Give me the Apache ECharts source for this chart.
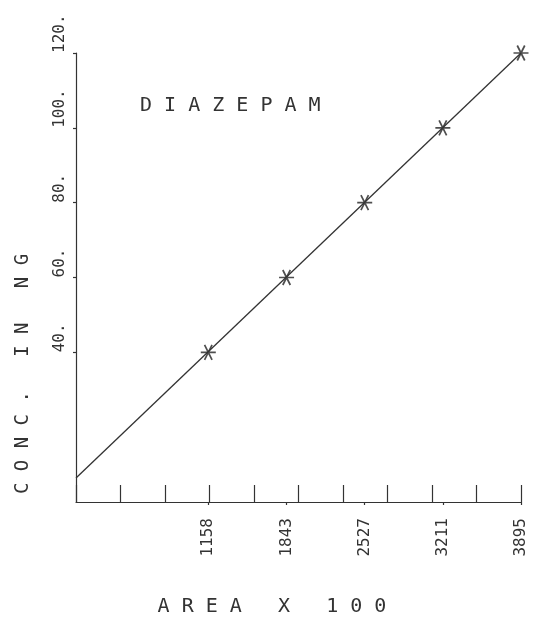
<!DOCTYPE html>
<html>
<head>
<meta charset="utf-8">
<script src="https://cdn.jsdelivr.net/npm/echarts@6/dist/echarts.min.js"></script>
<style>
  html, body { margin: 0; padding: 0; background: #fff; }
  #chart { width: 534px; height: 618px; }
</style>
</head>
<body>
<div id="chart"></div>
<script>
// calibration points
const areaValues = [1158, 1843, 2527, 3211, 3895]
const concValues = [40, 60, 80, 100, 120]
// fitted line, ends of the drawn line
const fitX = [0, 3895]
const fitY = [6.4, 120]
// labelled ticks
const yTickValues = [40, 60, 80, 100, 120]

const ink = '#333'
const font = 'DejaVu Sans Mono'

const points = areaValues.map((x, i) => [x, concValues[i]])
const fitLine = fitX.map((x, i) => [x, fitY[i]])

const chart = echarts.init(document.getElementById('chart'))
chart.setOption({
  backgroundColor: '#fff',
  animation: false,
  title: {
    text: 'D I A Z E P A M',
    left: 135,
    top: 91,
    textStyle: { fontFamily: font, fontSize: 20, fontWeight: 'normal', color: ink }
  },
  grid: { left: 76, right: 13, top: 53, bottom: 116 },
  xAxis: [
    {
      type: 'value',
      min: 0,
      max: 3895,
      interval: 389.5,
      axisLine: { lineStyle: { color: ink, width: 1.2 } },
      axisTick: { inside: true, length: 17, lineStyle: { color: ink, width: 1.2 } },
      axisLabel: { show: false },
      splitLine: { show: false }
    },
    {
      type: 'value',
      min: 0,
      max: 3895,
      position: 'bottom',
      axisLine: { show: false },
      axisTick: { customValues: areaValues, length: 3, lineStyle: { color: ink, width: 1.2 } },
      axisLabel: {
        customValues: areaValues,
        formatter: v => String(v),
        rotate: 90,
        margin: 16,
        fontFamily: font,
        fontSize: 16,
        color: ink
      },
      splitLine: { show: false }
    }
  ],
  yAxis: {
    type: 'value',
    min: 0,
    max: 120,
    axisLine: { show: true, lineStyle: { color: ink, width: 1.2 } },
    axisTick: { show: true, customValues: yTickValues, length: 3, lineStyle: { color: ink, width: 1.2 } },
    axisLabel: {
      customValues: yTickValues,
      formatter: v => v + '.',
      rotate: 90,
      align: 'left',
      margin: 8,
      fontFamily: font,
      fontSize: 16,
      color: ink
    },
    splitLine: { show: false }
  },
  graphic: [
    {
      type: 'text',
      x: 272,
      y: 607,
      style: {
        text: 'A R E A   X   1 0 0',
        font: '20px "DejaVu Sans Mono"',
        fill: ink,
        align: 'center',
        verticalAlign: 'middle'
      }
    },
    {
      type: 'text',
      x: 23,
      y: 374,
      rotation: Math.PI / 2,
      style: {
        text: 'C O N C .   I N   N G',
        font: '19px "DejaVu Sans Mono"',
        fill: ink,
        align: 'center',
        verticalAlign: 'middle'
      }
    }
  ],
  series: [
    {
      type: 'line',
      data: fitLine,
      symbol: 'none',
      lineStyle: { color: ink, width: 1.3 },
      silent: true
    },
    {
      type: 'scatter',
      data: points,
      symbol: 'path://M0,6L12,6M3,0L9,12M9,0L3,12',
      symbolSize: 15,
      itemStyle: { color: 'transparent', borderColor: '#222', borderWidth: 1.7 }
    }
  ]
})
</script>
</body>
</html>
